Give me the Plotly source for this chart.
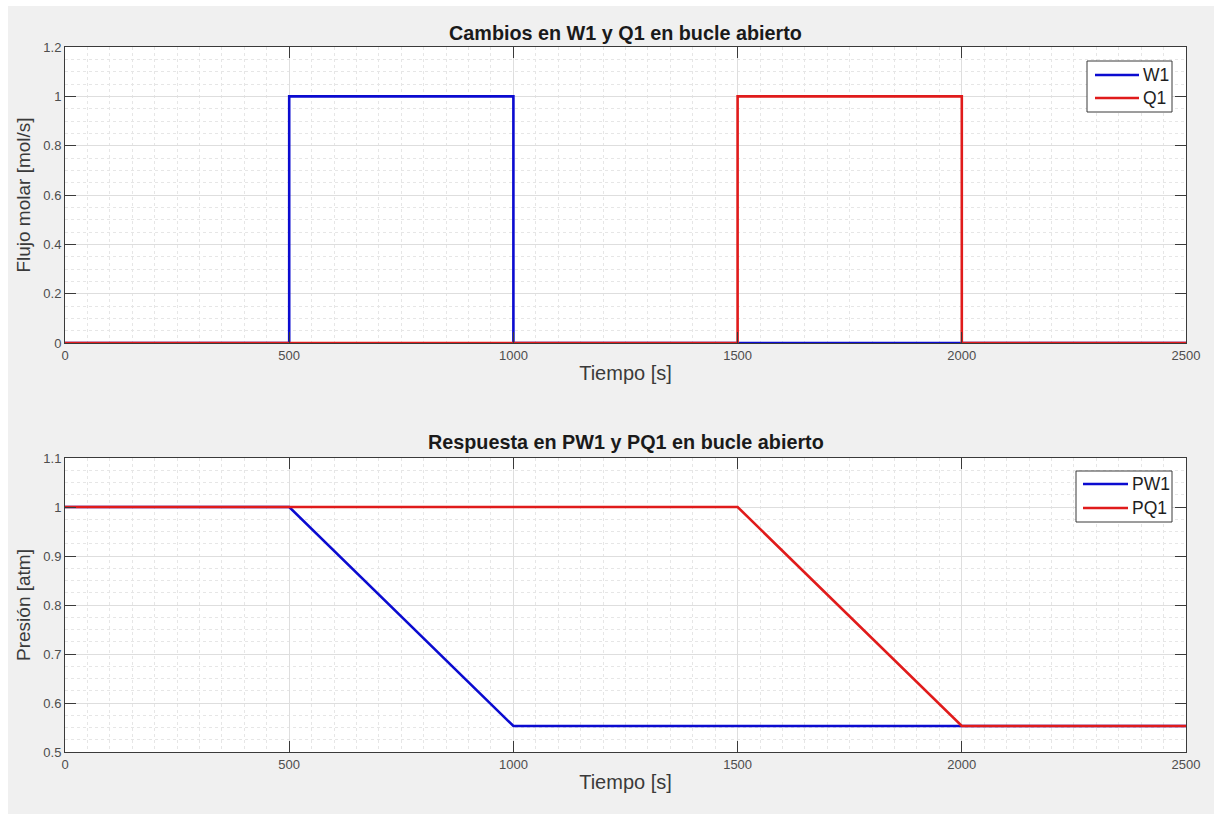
import plotly.graph_objects as go

# Open-loop step inputs (top panel)
t_w1 = [0, 500, 500, 1000, 1000, 2500]
w1 = [0, 0, 1, 1, 0, 0]
t_q1 = [0, 1500, 1500, 2000, 2000, 2500]
q1 = [0, 0, 1, 1, 0, 0]

# Pressure response (bottom panel)
t_pw1 = [0, 500, 1000, 2500]
pw1 = [1, 1, 0.553, 0.553]
t_pq1 = [0, 1500, 2000, 2500]
pq1 = [1, 1, 0.553, 0.553]

x_ticks = [0, 500, 1000, 1500, 2000, 2500]
y1_ticks = [0, 0.2, 0.4, 0.6, 0.8, 1, 1.2]
y2_ticks = [0.5, 0.6, 0.7, 0.8, 0.9, 1, 1.1]

top_names = ["W1", "Q1"]
bottom_names = ["PW1", "PQ1"]

BLUE = "#0b0bd0"
RED = "#e01b1b"
FONT = "Liberation Sans, Arial, sans-serif"
AXC = "#3a3a3a"
TICKC = "#4d4d4d"
LABC = "#3a3a3a"
LW = 2.6

fig = go.Figure()
fig.add_trace(go.Scatter(x=t_w1, y=w1, mode="lines", name=top_names[0],
                         line=dict(color=BLUE, width=LW), xaxis="x", yaxis="y"))
fig.add_trace(go.Scatter(x=t_q1, y=q1, mode="lines", name=top_names[1],
                         line=dict(color=RED, width=LW), xaxis="x", yaxis="y"))
fig.add_trace(go.Scatter(x=t_pw1, y=pw1, mode="lines", name=bottom_names[0],
                         line=dict(color=BLUE, width=LW), xaxis="x2", yaxis="y2"))
fig.add_trace(go.Scatter(x=t_pq1, y=pq1, mode="lines", name=bottom_names[1],
                         line=dict(color=RED, width=LW), xaxis="x2", yaxis="y2"))


def xax(domain_anchor):
    return dict(
        range=[0, 2500], tickvals=x_ticks, ticktext=[str(v) for v in x_ticks],
        ticks="inside", ticklen=11, tickcolor=AXC, mirror="ticks",
        showline=True, linecolor=AXC, linewidth=1,
        showgrid=True, gridcolor="#dedede", gridwidth=1, zeroline=False,
        minor=dict(dtick=50, showgrid=True, gridcolor="#e6e6e6",
                   griddash="dot", ticklen=0),
        tickfont=dict(family=FONT, size=13, color=TICKC),
        title=dict(text="Tiempo [s]", font=dict(family=FONT, size=20, color=LABC),
                   standoff=4),
        anchor=domain_anchor, fixedrange=True,
    )


def yax(rng, ticks, minor_dt, title, domain, anchor):
    return dict(
        range=rng, tickvals=ticks, ticktext=[f"{v:g}" for v in ticks],
        ticks="inside", ticklen=11, tickcolor=AXC, mirror="ticks",
        showline=True, linecolor=AXC, linewidth=1,
        showgrid=True, gridcolor="#dedede", gridwidth=1, zeroline=False,
        minor=dict(dtick=minor_dt, showgrid=True, gridcolor="#e6e6e6",
                   griddash="dot", ticklen=0),
        tickfont=dict(family=FONT, size=13, color=TICKC),
        title=dict(text=title, font=dict(family=FONT, size=19, color=LABC),
                   standoff=7),
        domain=domain, anchor=anchor, fixedrange=True,
    )


W, H = 1214, 814
ml, mr, mt, mb = 65, 28, 47, 62
pw = W - ml - mr
ph = H - mt - mb


def px_x(px):
    return (px - ml) / pw


def px_y(py):
    return (H - mb - py) / ph


def legend_box(names, colors, box, line_x, rows, text_x):
    """Boxed legend drawn in pixel positions converted to paper coordinates."""
    shapes = [dict(type="rect", xref="paper", yref="paper",
                   x0=px_x(box[0]), x1=px_x(box[1]), y0=px_y(box[3]), y1=px_y(box[2]),
                   fillcolor="white", line=dict(color="#3a3a3a", width=1), layer="above")]
    annos = []
    for name, col, ry in zip(names, colors, rows):
        shapes.append(dict(type="line", xref="paper", yref="paper",
                           x0=px_x(line_x[0]), x1=px_x(line_x[1]),
                           y0=px_y(ry), y1=px_y(ry),
                           line=dict(color=col, width=LW), layer="above"))
        annos.append(dict(text=name, xref="paper", yref="paper",
                          x=px_x(text_x), y=px_y(ry), xanchor="left", yanchor="middle",
                          showarrow=False,
                          font=dict(family=FONT, size=17.5, color="#1e1e1e")))
    return shapes, annos


s1, a1 = legend_box(top_names, [BLUE, RED], (1087, 1172, 61, 112),
                    (1095, 1139), (75, 98), 1141)
s2, a2 = legend_box(bottom_names, [BLUE, RED], (1076, 1172, 471, 522),
                    (1083, 1128), (484, 508), 1130)

fig.update_layout(
    width=W, height=H,
    margin=dict(l=ml, r=mr, t=mt, b=mb, autoexpand=False),
    paper_bgcolor="#f0f0f0", plot_bgcolor="white",
    font=dict(family=FONT),
    showlegend=False,
    xaxis=xax("y"),
    yaxis=yax([0, 1.2], y1_ticks, 0.05, "Flujo molar [mol/s]",
              [px_y(343), 1.0], "x"),
    xaxis2=xax("y2"),
    yaxis2=yax([0.5, 1.1], y2_ticks, 0.025, "Presión [atm]",
               [0.0, px_y(458)], "x2"),
    annotations=[
        dict(text="<b>Cambios en W1 y Q1 en bucle abierto</b>", xref="paper", yref="paper",
             x=0.5, y=px_y(33), xanchor="center", yanchor="middle", showarrow=False,
             font=dict(family=FONT, size=19.8, color="#1a1a1a")),
        dict(text="<b>Respuesta en PW1 y PQ1 en bucle abierto</b>", xref="paper", yref="paper",
             x=0.5, y=px_y(442), xanchor="center", yanchor="middle", showarrow=False,
             font=dict(family=FONT, size=19.8, color="#1a1a1a")),
    ] + a1 + a2,
    shapes=[
        # white margins around the grey figure window
        dict(type="rect", xref="paper", yref="paper",
             x0=px_x(0), x1=px_x(8), y0=px_y(H), y1=px_y(0),
             fillcolor="white", line=dict(width=0), layer="below"),
        dict(type="rect", xref="paper", yref="paper",
             x0=px_x(0), x1=px_x(W), y0=px_y(6), y1=px_y(0),
             fillcolor="white", line=dict(width=0), layer="below"),
    ] + s1 + s2,
)

fig.write_html("out.html", config={"displayModeBar": False})
